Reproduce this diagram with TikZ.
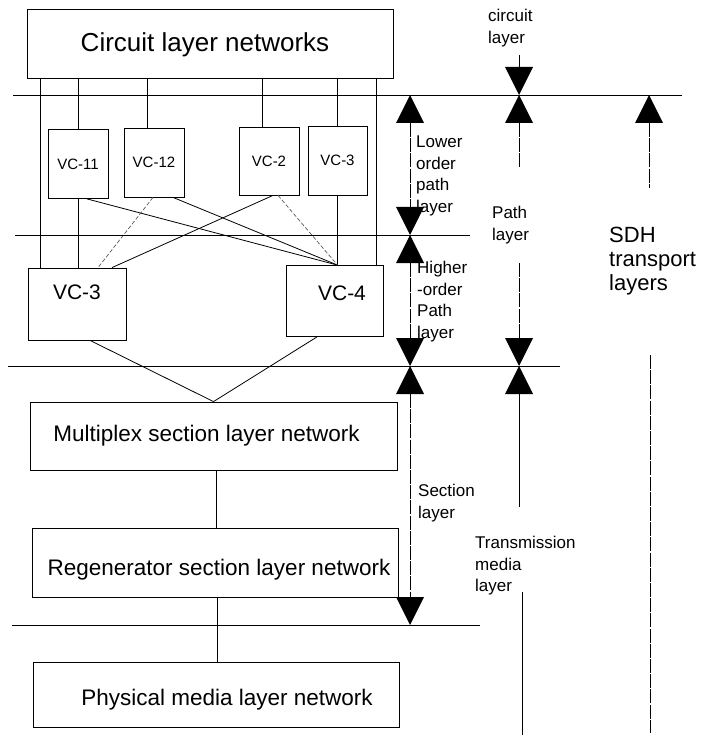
\documentclass[tikz,border=0pt]{standalone}
\usepackage{fontspec}
\setmainfont{Liberation Sans}
\begin{document}
\begin{tikzpicture}[x=1pt,y=-1pt,
  box/.style={draw, line width=0.8pt, inner sep=0pt},
  link/.style={line width=0.8pt},
  faint/.style={line width=0.7pt, dash pattern=on 4pt off 2pt, black!65},
  rail/.style={line width=0.8pt, dash pattern=on 14pt off 1.2pt},
  level/.style={line width=0.9pt},
  tag/.style={font=\fontsize{17}{21.5}\selectfont, align=left, anchor=north west, inner sep=0pt},
  bigtext/.style={font=\fontsize{22.5}{26}\selectfont, inner sep=0pt},
  pics/uptri/.style={code={\fill (0,0) -- (-14,28) -- (14,28) -- cycle;}},
  pics/downtri/.style={code={\fill (0,0) -- (-14,-28) -- (14,-28) -- cycle;}},
]
\useasboundingbox (0,0) rectangle (703,735);

% ---- network boxes ----
\node[box, minimum width=366pt, minimum height=69pt] (circuit) at (210,43.5) {};
\node[font=\fontsize{26}{30}\selectfont, inner sep=0pt] (circuitT) at ([xshift=-5pt,yshift=-1.5pt]circuit.center) {Circuit layer networks};

\node[box, minimum width=60pt, minimum height=69pt, font=\fontsize{15}{18}\selectfont] (vc11) at (78,164) {VC-11};
\node[box, minimum width=60pt, minimum height=69pt, font=\fontsize{15}{18}\selectfont] (vc12) at (154,162.5) {VC-12};
\node[box, minimum width=60pt, minimum height=68pt, font=\fontsize{15}{18}\selectfont] (vc2) at (269,161) {VC-2};
\node[box, minimum width=59pt, minimum height=69pt, font=\fontsize{15}{18}\selectfont] (vc3s) at (337.5,160.5) {VC-3};

\node[box, minimum width=98pt, minimum height=72pt] (vc3b) at (77,304) {};
\node[font=\fontsize{21}{24}\selectfont, inner sep=0pt] (vc3bT) at ([yshift=12pt]vc3b.center) {VC-3};
\node[box, minimum width=97pt, minimum height=71pt] (vc4) at (334.5,301) {};
\node[font=\fontsize{21}{24}\selectfont, inner sep=0pt] (vc4T) at ([xshift=7.5pt,yshift=8pt]vc4.center) {VC-4};

\node[box, minimum width=367pt, minimum height=68pt] (mux) at (213.5,436) {};
\node[bigtext] (muxT) at ([xshift=-7pt]mux.center) {Multiplex section layer network};
\node[box, minimum width=366pt, minimum height=69pt] (regen) at (215,562.5) {};
\node[bigtext] (regenT) at ([xshift=4pt,yshift=-7.5pt]regen.center) {Regenerator section layer network};
\node[box, minimum width=366pt, minimum height=65pt] (phys) at (216,694.5) {};
\node[bigtext] (physT) at ([xshift=11pt,yshift=-5.5pt]phys.center) {Physical media layer network};

% ---- connections between networks ----
\coordinate (cl) at ([xshift=-37pt]vc3b.north);
\coordinate (cr) at ([xshift=41.5pt]vc4.north);
\coordinate (c12) at ([xshift=-7pt]vc12.north);
\coordinate (c2) at ([xshift=-7pt]vc2.north);
\coordinate (m4) at (vc3s.south |- vc4.north);
\coordinate (mx) at ([xshift=2.5pt]mux.south);

\draw[link] (cl) -- (cl |- circuit.south);
\draw[link] (cr) -- (cr |- circuit.south);
\draw[link] (vc11.north) -- (vc11.north |- circuit.south);
\draw[link] (c12) -- (c12 |- circuit.south);
\draw[link] (c2) -- (c2 |- circuit.south);
\draw[link] (vc3s.north) -- (vc3s.north |- circuit.south);

\draw[link] (vc11.south) -- (vc11.south |- vc3b.north);
\draw[link] (vc3s.south) -- (m4);
\draw[link] ([xshift=9pt]vc11.south) -- (m4);
\draw[link] ([xshift=19pt]vc12.south) -- (m4);
\draw[faint] ([xshift=-1pt]vc12.south) -- ([xshift=21pt]vc3b.north);
\draw[link] ([xshift=4pt]vc2.south) -- ([xshift=35pt]vc3b.north);
\draw[faint] ([xshift=9pt]vc2.south) -- (m4);

\draw[link] ([xshift=13pt]vc3b.south) -- (mux.north);
\draw[link] ([xshift=-17.5pt]vc4.south) -- (mux.north);
\draw[link] (mx) -- (mx |- regen.north);
\draw[link] ([xshift=2.5pt]regen.south) -- ([xshift=2.5pt]regen.south |- phys.north);

% ---- layer boundaries ----
\coordinate (h1l) at (13,95);  \coordinate (h1r) at (682,95);
\coordinate (h2l) at (15,235); \coordinate (h2r) at (470,235);
\coordinate (h3l) at (8,366);  \coordinate (h3r) at (560,366);
\coordinate (h4l) at (12,625); \coordinate (h4r) at (480,625);
\draw[level] (h1l) -- (h1r);
\draw[level] (h2l) -- (h2r);
\draw[level] (h3l) -- (h3r);
\draw[level] (h4l) -- (h4r);

% ---- layer markers, first column ----
\pic at (410,95) {uptri};
\pic at (410,235) {downtri};
\pic at (410,235) {uptri};
\pic at (410,366) {downtri};
\pic at (410,366) {uptri};
\pic at (410,625) {downtri};
\coordinate (a1) at (410,123); \coordinate (a2) at (410,207);
\coordinate (a3) at (410,263); \coordinate (a4) at (410,338);
\coordinate (a5) at (410,394); \coordinate (a6) at (410,597);
\draw[rail] (a1) -- (a2);
\draw[rail] (a3) -- (a4);
\draw[rail] (a5) -- (a6);

% ---- layer markers, second column ----
\pic at (519,95) {downtri};
\pic at (519,95) {uptri};
\pic at (519,366) {downtri};
\pic at (519,366) {uptri};
\coordinate (b0) at (519,55);  \coordinate (b1) at (519,67);
\coordinate (b2) at (519,123); \coordinate (b3) at (519,167);
\coordinate (b4) at (519,263); \coordinate (b5) at (519,338);
\coordinate (b6) at (519,394); \coordinate (b7) at (519,507);
\coordinate (b8) at (522,592); \coordinate (b9) at (522,735);
\draw[link] (b0) -- (b1);
\draw[rail] (b2) -- (b3);
\draw[rail] (b4) -- (b5);
\draw[link] (b6) -- (b7);
\draw[link] (b8) -- (b9);

% ---- layer markers, third column ----
\pic at (649,95) {uptri};
\coordinate (s1) at (649,123); \coordinate (s2) at (649,188);
\coordinate (s3) at (650,355); \coordinate (s4) at (650,733);
\draw[rail] (s1) -- (s2);
\draw[rail] (s3) -- (s4);

% ---- layer names ----
\node[tag] (tCirc) at (488,9) {circuit\\layer};
\node[tag] (tLow) at (416,136) {Lower\\order\\path\\layer};
\node[tag] (tHigh) at (417,261) {Higher\\-order\\Path\\layer};
\node[tag] (tPath) at (492,206) {Path\\layer};
\node[tag] (tSect) at (418,484) {Section\\layer};
\node[tag] (tTrans) at (475,536) {Transmission\\media\\layer};
\node[tag, font=\fontsize{22}{24}\selectfont] (tSDH) at (609,227) {SDH\\transport\\layers};
\end{tikzpicture}
\end{document}
